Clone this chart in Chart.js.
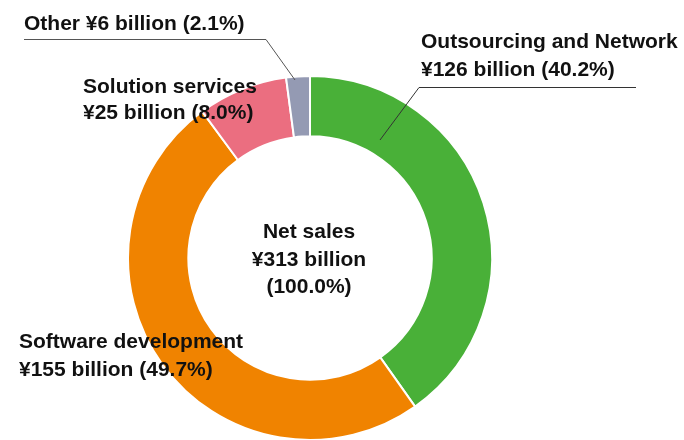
<!DOCTYPE html>
<html>
<head>
<meta charset="utf-8">
<script src="https://cdn.jsdelivr.net/npm/chart.js@4"></script>
<style>
  html, body { margin: 0; padding: 0; background: #fff; }
  #wrap { width: 684px; height: 440px; position: relative; }
</style>
</head>
<body>
<div id="wrap"><canvas id="chart"></canvas></div>
<script>
const categories = ['Outsourcing and Network', 'Software development', 'Solution services', 'Other'];
const amounts = [126, 155, 25, 6];
const percents = [40.2, 49.7, 8.0, 2.1];
const totalAmount = 313;
const totalPercent = 100.0;
const colors = ['#49b038', '#f08300', '#eb6e80', '#949ab3'];

const FONT = 'bold 21px "Liberation Sans", Arial, sans-serif';

function amountText(i) {
    return '¥' + amounts[i] + ' billion (' + percents[i].toFixed(1) + '%)';
}

// labels drawn around the ring
const labelPlugin = {
    id: 'labels',
    afterDraw(chart) {
        const ctx = chart.ctx;
        ctx.save();
        ctx.font = FONT;
        ctx.fillStyle = '#111';
        ctx.textBaseline = 'middle';
        ctx.textAlign = 'left';

        // Outsourcing and Network
        ctx.fillText(categories[0], 421, 42);
        ctx.fillText(amountText(0), 421, 70);
        // Software development
        ctx.fillText(categories[1], 19, 342);
        ctx.fillText(amountText(1), 19, 370);
        // Solution services
        ctx.fillText(categories[2], 83, 87);
        ctx.fillText(amountText(2), 83, 113);
        // Other
        ctx.fillText(categories[3] + ' ¥' + amounts[3] + ' billion (' + percents[3].toFixed(1) + '%)', 24, 24);

        // center text
        ctx.textAlign = 'center';
        ctx.fillText('Net sales', 309, 232);
        ctx.fillText('¥' + totalAmount + ' billion', 309, 260);
        ctx.fillText('(' + totalPercent.toFixed(1) + '%)', 309, 287);

        // leader lines
        ctx.lineWidth = 1;
        ctx.strokeStyle = '#333';
        ctx.beginPath();
        ctx.moveTo(636, 87.5);
        ctx.lineTo(419, 87.5);
        ctx.lineTo(380, 140);
        ctx.stroke();

        ctx.strokeStyle = '#555';
        ctx.beginPath();
        ctx.moveTo(24, 39.5);
        ctx.lineTo(266, 39.5);
        ctx.lineTo(295, 80);
        ctx.stroke();
        ctx.restore();
    }
};

new Chart(document.getElementById('chart'), {
    type: 'doughnut',
    data: {
        labels: categories,
        datasets: [{
            data: percents,
            backgroundColor: colors,
            borderColor: '#fff',
            borderWidth: 2
        }]
    },
    options: {
        responsive: true,
        maintainAspectRatio: false,
        animation: false,
        radius: 182,
        cutout: 121,
        layout: { padding: { left: 0, right: 64, top: 76, bottom: 0 } },
        plugins: {
            legend: { display: false },
            tooltip: { enabled: false }
        }
    },
    plugins: [labelPlugin]
});
</script>
</body>
</html>
